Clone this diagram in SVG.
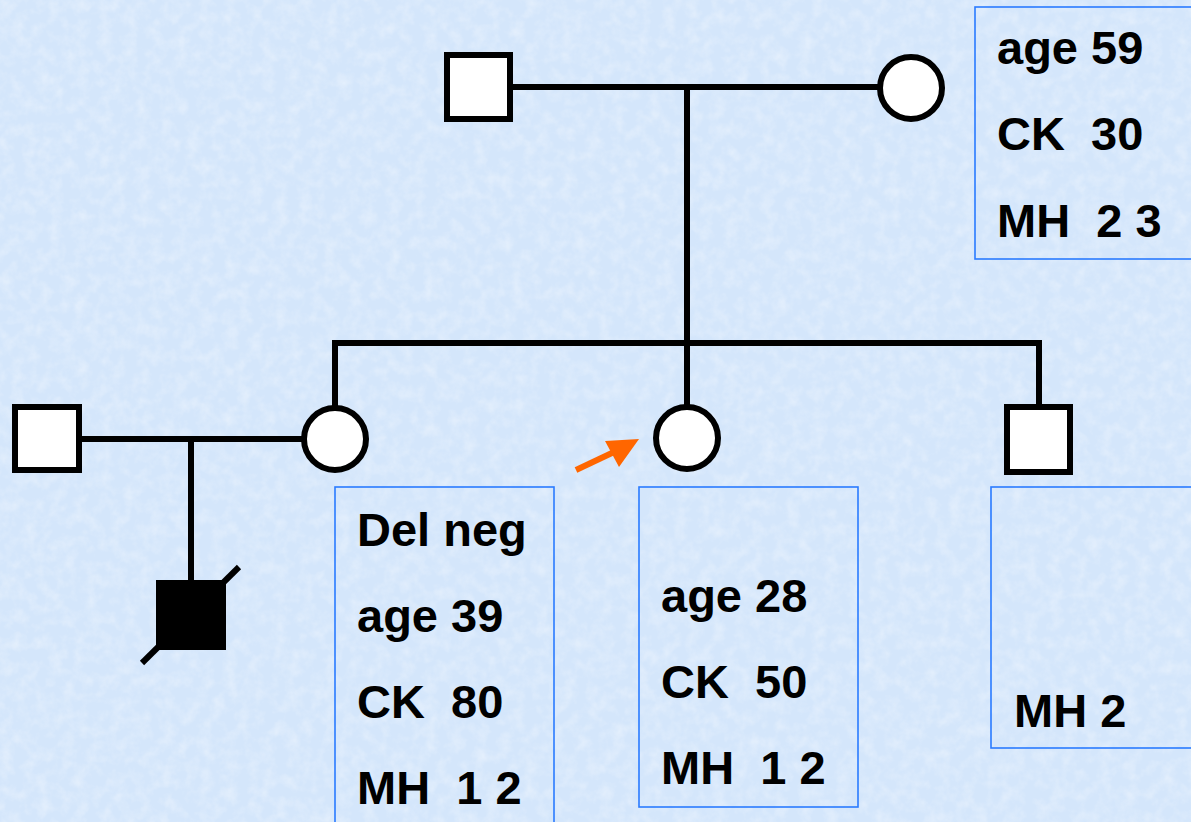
<svg xmlns="http://www.w3.org/2000/svg" width="1191" height="822" viewBox="0 0 1191 822">
  <defs>
    <filter id="paper" x="0" y="0" width="100%" height="100%">
      <feTurbulence type="fractalNoise" baseFrequency="0.08" numOctaves="3" seed="4" result="n"/>
      <feColorMatrix in="n" type="matrix" values="0 0 0 0 1  0 0 0 0 1  0 0 0 0 1  0 0 0 -1.8 1.1" />
    </filter>
  </defs>
  <style>
    .line { stroke: #000; stroke-width: 6; fill: none; }
    .male, .female { fill: #fff; stroke: #000; stroke-width: 6; }
    .affected { fill: #000; stroke: #000; stroke-width: 6; }
    .box { fill: none; stroke: #2a7bff; stroke-width: 1.6; }
    .pointer { stroke: #ff6600; stroke-width: 6; fill: #ff6600; }
    .lbl { font-family: "Liberation Sans", Arial, Helvetica, sans-serif; font-weight: bold; font-size: 47px; fill: #000; white-space: pre; }
  </style>

  <!-- background -->
  <rect width="1191" height="822" fill="#d4e6fb"/>
  <rect width="1191" height="822" filter="url(#paper)" opacity="0.35"/>

  <!-- connectors -->
  <g id="connectors">
    <line class="line" x1="510" y1="87" x2="880" y2="87"/>
    <line class="line" x1="687" y1="87" x2="687" y2="343"/>
    <polyline class="line" points="335,406 335,343 1039,343 1039,407"/>
    <line class="line" x1="687" y1="343" x2="687" y2="406"/>
    <line class="line" x1="79" y1="439" x2="304" y2="439"/>
    <line class="line" x1="191" y1="439" x2="191" y2="583"/>
  </g>

  <!-- generation I -->
  <g id="father">
    <rect class="male" x="447" y="55" width="63" height="64"/>
  </g>
  <g id="mother">
    <circle class="female" cx="911" cy="88" r="31"/>
  </g>
  <g id="mother-data">
    <rect class="box" x="975" y="7" width="230" height="252"/>
    <text class="lbl" x="997" y="64">age 59</text>
    <text class="lbl" x="997" y="150">CK  30</text>
    <text class="lbl" x="997" y="237">MH  2 3</text>
  </g>

  <!-- generation II -->
  <g id="spouse">
    <rect class="male" x="15" y="407" width="64" height="63"/>
  </g>
  <g id="sister">
    <circle class="female" cx="335" cy="439" r="31"/>
  </g>
  <g id="sister-data">
    <rect class="box" x="335" y="487" width="219" height="350"/>
    <text class="lbl" x="357" y="546">Del neg</text>
    <text class="lbl" x="357" y="632">age 39</text>
    <text class="lbl" x="357" y="718">CK  80</text>
    <text class="lbl" x="357" y="804">MH  1 2</text>
  </g>
  <g id="proband">
    <circle class="female" cx="687" cy="438" r="31"/>
    <line class="pointer" x1="576" y1="470" x2="614" y2="452"/>
    <polygon points="639,439 605,441 619,467" fill="#ff6600"/>
  </g>
  <g id="proband-data">
    <rect class="box" x="639" y="487" width="219" height="320"/>
    <text class="lbl" x="661" y="612">age 28</text>
    <text class="lbl" x="661" y="698">CK  50</text>
    <text class="lbl" x="661" y="784">MH  1 2</text>
  </g>
  <g id="brother">
    <rect class="male" x="1007" y="407" width="63" height="65"/>
  </g>
  <g id="brother-data">
    <rect class="box" x="991" y="487" width="220" height="261"/>
    <text class="lbl" x="1014" y="727">MH 2</text>
  </g>

  <!-- generation III -->
  <g id="son-deceased">
    <rect class="affected" x="159" y="583" width="64" height="64"/>
    <line class="line" x1="142" y1="663" x2="239" y2="567"/>
  </g>
</svg>
